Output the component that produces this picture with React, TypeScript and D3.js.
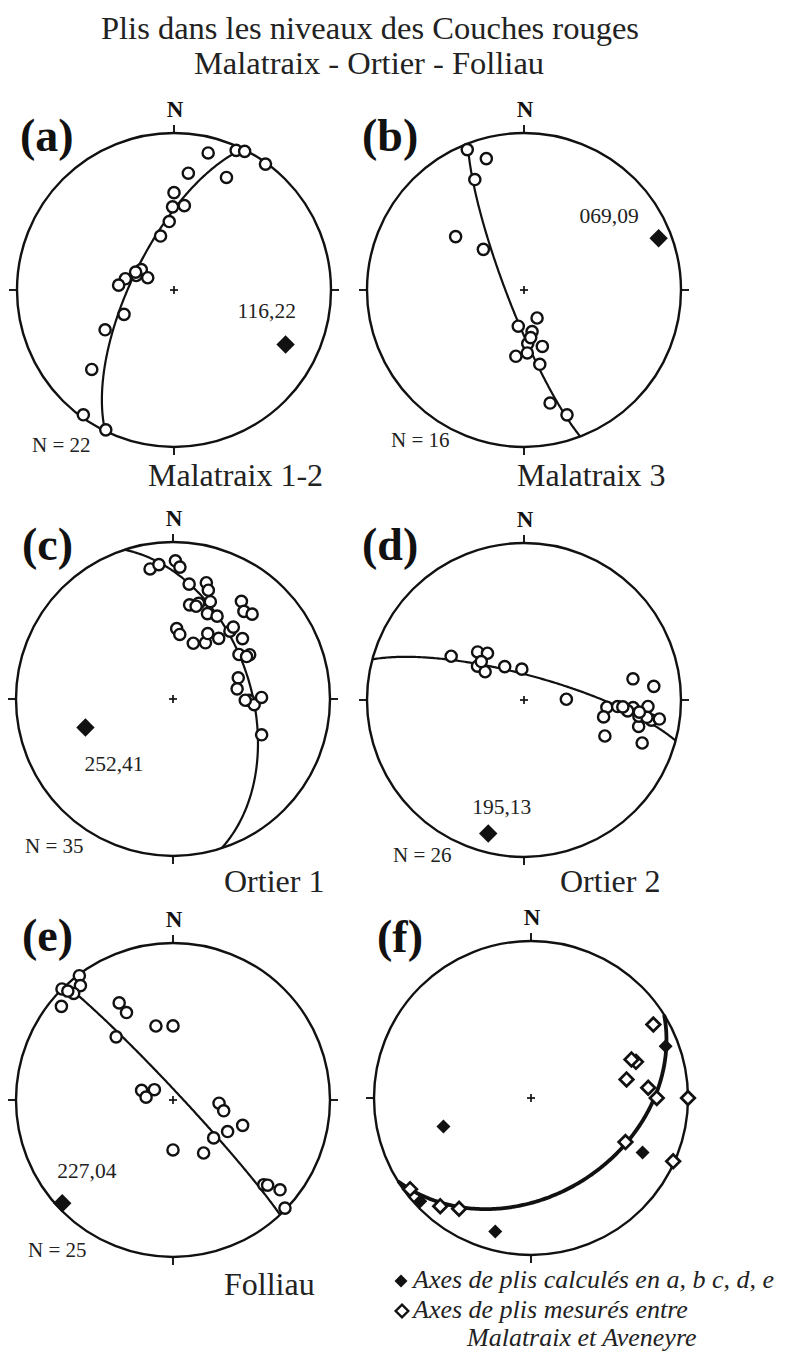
import React from "react";
import * as d3 from "d3";

// ---------- DATA ----------
const titleLines = ["Plis dans les niveaux des Couches rouges", "Malatraix - Ortier - Folliau"];
const panelLetters = ["(a)", "(b)", "(c)", "(d)", "(e)", "(f)"];
const siteNames = ["Malatraix 1-2", "Malatraix 3", "Ortier 1", "Ortier 2", "Folliau"];
const northLabel = "N";

// Fold axes calculated in a–e (trend, plunge)
const calculatedAxes: [number, number][] = [
  [116, 22],
  [69, 9],
  [252, 41],
  [195, 13],
  [227, 4],
];

// Poles to bedding (trend, plunge), lower hemisphere
const polesA: [number, number][] = [
  [14, 11], [24, 3], [27, 1], [36, 1], [7, 26], [25, 22], [0, 38], [359, 46], [7, 45], [356, 54], [346, 61],
  [302, 70], [291, 69], [295, 75], [283, 64], [275, 61], [244, 61], [240, 48], [226, 28], [216, 2], [206, 1], [295, 68],
];
const polesB: [number, number][] = [
  [338, 4], [344, 14], [336, 24], [308, 44], [315, 60], [155, 74], [189, 71], [169, 68], [176, 62], [162, 59],
  [187, 55], [177, 57], [168, 50], [167, 27], [161, 17], [172, 65],
];
const polesC: [number, number][] = [
  [350, 17], [354, 15], [1, 13], [3, 17], [8, 27], [16, 24], [18, 28], [10, 39], [15, 37], [21, 34], [22, 41],
  [28, 40], [35, 25], [39, 29], [43, 27], [3, 53], [6, 56], [20, 59], [30, 56], [28, 51], [37, 50], [40, 43],
  [49, 41], [56, 48], [60, 43], [72, 54], [81, 56], [91, 50], [94, 47], [89, 43], [112, 39], [14, 39], [40, 40],
  [60, 45], [91, 52],
];
const polesD: [number, number][] = [
  [301, 45], [316, 55], [306, 60], [306, 65], [322, 59], [330, 70], [356, 74], [89, 68], [95, 46], [94, 40],
  [94, 31], [93, 22], [79, 30], [84, 18], [102, 47], [96, 34], [103, 26], [99, 19], [98, 14], [114, 43],
  [110, 21], [98, 27], [98, 22], [312, 60], [96, 27], [94, 37],
];
const polesE: [number, number][] = [
  [323, 1], [321, 7], [315, 0], [317, 8], [310, 8], [331, 30], [332, 37], [347, 50], [0, 51], [318, 45],
  [287, 73], [299, 79], [276, 76], [94, 66], [102, 63], [110, 51], [120, 57], [133, 61], [180, 64], [150, 58],
  [133, 22], [132, 20], [130, 12], [134, 1], [316, 4],
];
// Fold axes measured between Malatraix and Aveneyre (trend, plunge)
const measuredAxes: [number, number][] = [
  [59, 10], [71, 30], [69, 32], [79, 38], [85, 26], [90, 21], [90, 0], [115, 34], [114, 1], [233, 4], [220, 11], [213, 17],
];
// Girdle through fold axes in f: dip direction, dip
const girdleF: [number, number] = [148, 38];

const legendLines = ["Axes de plis calculés en a, b c, d, e", "Axes de plis mesurés entre", "Malatraix et Aveneyre"];

// ---------- LAYOUT ----------
const W = 785;
const H = 1351;
const FONT = "'Liberation Serif', 'Times New Roman', Times, serif";

const nets = [
  { cx: 174, cy: 290, r: 157, letter: [20, 151], count: [32, 452], site: [148, 486], ann: [-48, -26] },
  { cx: 524, cy: 290, r: 157, letter: [362, 151], count: [391, 447], site: [517, 486], ann: [-79, -15] },
  { cx: 173, cy: 699, r: 157, letter: [22, 560], count: [25, 853], site: [224, 892], ann: [-1, 44] },
  { cx: 524, cy: 700, r: 157, letter: [362, 560], count: [393, 862], site: [560, 892], ann: [-16, -20] },
  { cx: 173, cy: 1100, r: 157, letter: [22, 951], count: [28, 1257], site: [224, 1295], ann: [-5, -25] },
  { cx: 531, cy: 1098, r: 157, letter: [377, 952], count: null, site: null, ann: null },
];

const polesList = [polesA, polesB, polesC, polesD, polesE];

const toRad = Math.PI / 180;

// Lambert equal-area (Schmidt) lower hemisphere
function projectLine(trend: number, plunge: number): [number, number] {
  const rho = Math.SQRT2 * Math.sin(((90 - plunge) / 2) * toRad);
  return [rho * Math.sin(trend * toRad), rho * Math.cos(trend * toRad)];
}

function planeLines(dipDir: number, dip: number): [number, number][] {
  const s = (dipDir - 90) * toRad;
  const dd = dipDir * toRad;
  const d = dip * toRad;
  const S = [Math.sin(s), Math.cos(s), 0];
  const D = [Math.cos(d) * Math.sin(dd), Math.cos(d) * Math.cos(dd), Math.sin(d)];
  return d3.range(0, 180.01, 1).map((b) => {
    const c = Math.cos(b * toRad);
    const sn = Math.sin(b * toRad);
    const e = c * S[0] + sn * D[0];
    const n = c * S[1] + sn * D[1];
    const dn = Math.max(0, sn * D[2]);
    return [Math.atan2(e, n) / toRad, Math.asin(Math.min(1, dn)) / toRad] as [number, number];
  });
}

const diamond = (h: number) => `M0,${-h}L${h},0L0,${h}L${-h},0Z`;
const fmt3 = d3.format("03");
const fmt2 = d3.format("02");

function Net({ idx }: { idx: number }) {
  const cfg = nets[idx];
  const xs = d3.scaleLinear().domain([-1, 1]).range([cfg.cx - cfg.r, cfg.cx + cfg.r]);
  const ys = d3.scaleLinear().domain([-1, 1]).range([cfg.cy + cfg.r, cfg.cy - cfg.r]);
  const pt = (t: number, p: number): [number, number] => {
    const [u, v] = projectLine(t, p);
    return [xs(u), ys(v)];
  };
  const line = d3.line();
  const isF = idx === 5;
  const girdle = isF
    ? planeLines(girdleF[0], girdleF[1])
    : planeLines((calculatedAxes[idx][0] + 180) % 360, 90 - calculatedAxes[idx][1]);
  const girdlePath = line(girdle.map(([t, p]) => pt(t, p))) || "";
  const ticks = [0, 90, 180, 270];
  return (
    <g>
      <circle cx={cfg.cx} cy={cfg.cy} r={cfg.r} fill="none" stroke="#111" strokeWidth={2.4} />
      {ticks.map((a) => (
        <line
          key={a}
          x1={cfg.cx + (cfg.r - 1) * Math.sin(a * toRad)}
          y1={cfg.cy - (cfg.r - 1) * Math.cos(a * toRad)}
          x2={cfg.cx + (cfg.r + 8) * Math.sin(a * toRad)}
          y2={cfg.cy - (cfg.r + 8) * Math.cos(a * toRad)}
          stroke="#111"
          strokeWidth={1.9}
        />
      ))}
      <line x1={cfg.cx - 4} y1={cfg.cy} x2={cfg.cx + 4} y2={cfg.cy} stroke="#111" strokeWidth={1.7} />
      <line x1={cfg.cx} y1={cfg.cy - 4} x2={cfg.cx} y2={cfg.cy + 4} stroke="#111" strokeWidth={1.7} />
      <path d={girdlePath} fill="none" stroke="#111" strokeWidth={isF ? 3.8 : 2.2} />
      {!isF &&
        polesList[idx].map(([t, p], i) => {
          const [x, y] = pt(t, p);
          return <circle key={i} cx={x} cy={y} r={5.6} fill="#fff" stroke="#111" strokeWidth={2.4} />;
        })}
      {isF &&
        measuredAxes.map(([t, p], i) => {
          const [x, y] = pt(t, p);
          return (
            <path key={"m" + i} d={diamond(6.8)} transform={`translate(${x},${y})`} fill="#fff" stroke="#111" strokeWidth={2.7} />
          );
        })}
      {isF &&
        calculatedAxes.map(([t, p], i) => {
          const [x, y] = pt(t, p);
          return <path key={"c" + i} d={diamond(7)} transform={`translate(${x},${y})`} fill="#111" />;
        })}
      {!isF &&
        (() => {
          const [t, p] = calculatedAxes[idx];
          const [x, y] = pt(t, p);
          return (
            <g>
              <path d={diamond(9.2)} transform={`translate(${x},${y})`} fill="#111" />
              <text x={x + cfg.ann![0]} y={y + cfg.ann![1]} fontFamily={FONT} fontSize={21.5} fill="#222">
                {fmt3(t) + "," + fmt2(p)}
              </text>
            </g>
          );
        })()}
      <text x={cfg.cx + 1} y={cfg.cy - cfg.r - 16} textAnchor="middle" fontFamily={FONT} fontWeight="bold" fontSize={23} fill="#111">
        {northLabel}
      </text>
      <text x={cfg.letter[0]} y={cfg.letter[1]} fontFamily={FONT} fontWeight="bold" fontSize={46} fill="#111">
        {panelLetters[idx]}
      </text>
      {cfg.count && (
        <text x={cfg.count[0]} y={cfg.count[1]} fontFamily={FONT} fontSize={21} fill="#222">
          {"N = " + polesList[idx].length}
        </text>
      )}
      {cfg.site && (
        <text x={cfg.site[0]} y={cfg.site[1]} fontFamily={FONT} fontSize={32} fill="#222">
          {siteNames[idx]}
        </text>
      )}
    </g>
  );
}

export default function App() {
  return (
    <svg
      width={W}
      height={H}
      viewBox={`0 0 ${W} ${H}`}
      style={{ position: "absolute", left: 0, top: 0, display: "block", background: "#fff" }}
    >
      <rect x={0} y={0} width={W} height={H} fill="#fff" />
      <text x={370} y={39} textAnchor="middle" fontFamily={FONT} fontSize={32.5} fill="#222">
        {titleLines[0]}
      </text>
      <text x={369} y={74} textAnchor="middle" fontFamily={FONT} fontSize={32.5} fill="#222">
        {titleLines[1]}
      </text>
      {nets.map((_, i) => (
        <Net key={i} idx={i} />
      ))}
      <g fontFamily={FONT} fontStyle="italic" fontSize={26} fill="#222">
        <path d={diamond(6.5)} transform="translate(401,1281)" fill="#111" />
        <text x={413} y={1288}>{legendLines[0]}</text>
        <path d={diamond(6.3)} transform="translate(402,1311)" fill="#fff" stroke="#111" strokeWidth={2.4} />
        <text x={413} y={1318}>{legendLines[1]}</text>
        <text x={467} y={1346}>{legendLines[2]}</text>
      </g>
    </svg>
  );
}
